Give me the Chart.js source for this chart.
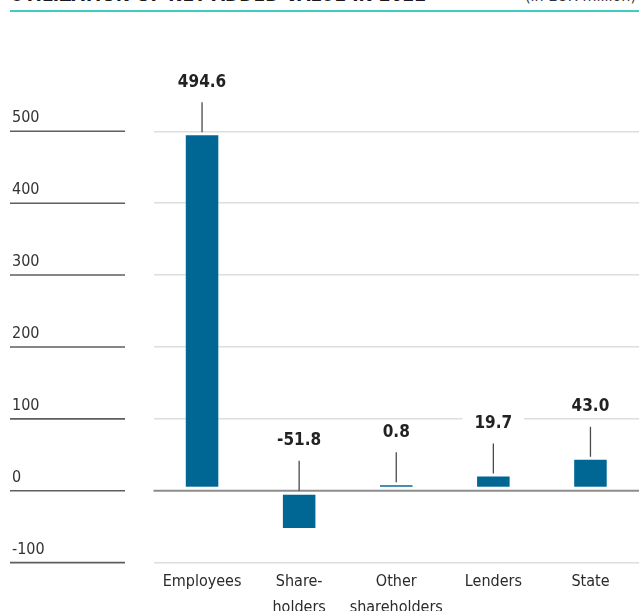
<!DOCTYPE html>
<html>
<head>
<meta charset="utf-8">
<script src="https://cdn.jsdelivr.net/npm/chart.js@4/dist/chart.umd.min.js"></script>
<style>
  html, body { margin: 0; padding: 0; background: #fff; overflow: hidden; }
  #wrap { position: relative; width: 639px; height: 611px; }
  #title { position: absolute; left: 10px; top: -17px; font: bold 19px "DejaVu Sans Condensed", sans-serif; letter-spacing: 0px; color: #1a1a1a; white-space: nowrap; }
  #unit { position: absolute; right: 3px; top: -14px; font: 16px "DejaVu Sans Condensed", sans-serif; color: #333; white-space: nowrap; }
  #rule { position: absolute; left: 10px; right: 0; top: 10px; height: 2px; background: #3fcdc0; }
  #c { position: absolute; left: 0; top: 0; }
</style>
</head>
<body>
<div id="wrap">
  <div id="title">UTILIZATION OF NET ADDED VALUE IN 2022</div>
  <div id="unit">(in EUR million)</div>
  <div id="rule"></div>
  <canvas id="c" width="639" height="611"></canvas>
</div>
<script>
const categories = [["Employees"], ["Share-", "holders"], ["Other", "shareholders"], ["Lenders"], ["State"]];
const values = [494.6, -51.8, 0.8, 19.7, 43.0];
const valueLabels = ["494.6", "-51.8", "0.8", "19.7", "43.0"];
const yTicks = [-100, 0, 100, 200, 300, 400, 500];

const FONT = '"DejaVu Sans Condensed", "DejaVu Sans", sans-serif';

const overlay = {
  id: 'overlay',
  afterDatasetsDraw(chart) {
    const { ctx, chartArea, scales: { y } } = chart;
    const y0 = y.getPixelForValue(0);
    ctx.save();
    ctx.fillStyle = '#ffffff';
    ctx.fillRect(chartArea.left, y0 - 4, chartArea.right - chartArea.left, 8);
    ctx.strokeStyle = '#8c8c8c';
    ctx.lineWidth = 2;
    ctx.beginPath();
    ctx.moveTo(chartArea.left, y0);
    ctx.lineTo(chartArea.right, y0);
    ctx.stroke();
    const meta = chart.getDatasetMeta(0);
    ctx.font = 'bold 17px ' + FONT;
    ctx.textAlign = 'center';
    ctx.textBaseline = 'middle';
    meta.data.forEach((bar, i) => {
      const v = values[i];
      const lineBottom = v >= 0 ? bar.y - 3 : y0;
      const lineTop = lineBottom - 30;
      ctx.strokeStyle = '#4a4a4a';
      ctx.lineWidth = 1.3;
      ctx.beginPath();
      ctx.moveTo(bar.x, lineTop);
      ctx.lineTo(bar.x, lineBottom);
      ctx.stroke();
      const ly = lineTop - 20;
      const txt = valueLabels[i];
      const w = ctx.measureText(txt).width;
      ctx.fillStyle = '#ffffff';
      ctx.fillRect(bar.x - w / 2 - 12, ly - 9, w + 24, 18);
      ctx.fillStyle = '#222222';
      ctx.fillText(txt, bar.x, ly);
    });
    ctx.restore();
  },
  afterDraw(chart) {
    const { ctx, scales: { y } } = chart;
    ctx.save();
    ctx.strokeStyle = '#5e5e5e';
    ctx.lineWidth = 1.6;
    y.ticks.forEach(t => {
      const py = y.getPixelForValue(t.value);
      ctx.beginPath();
      ctx.moveTo(10, py);
      ctx.lineTo(125, py);
      ctx.stroke();
    });
    ctx.restore();
  }
};

new Chart(document.getElementById('c'), {
  type: 'bar',
  data: {
    labels: categories,
    datasets: [{
      data: values,
      backgroundColor: '#006795',
      borderWidth: 0,
      categoryPercentage: 1,
      barPercentage: 0.335,
      minBarLength: 5.5
    }]
  },
  options: {
    responsive: false,
    animation: false,
    devicePixelRatio: 1,
    layout: { padding: { left: 12, right: 0, top: 131.3, bottom: 0 } },
    plugins: { legend: { display: false }, tooltip: { enabled: false } },
    scales: {
      x: {
        grid: { display: false, drawTicks: false },
        border: { display: false },
        ticks: {
          color: '#2a2a2a',
          font: { family: FONT, size: 16, lineHeight: 1.65 },
          padding: 6,
          maxRotation: 0,
          autoSkip: false
        },
        afterFit: s => { s.height = 611 - 562.6; }
      },
      y: {
        min: -100,
        max: 500,
        afterBuildTicks: s => { s.ticks = yTicks.map(v => ({ value: v })); },
        grid: {
          color: ctx => (ctx.tick && ctx.tick.value === 0) ? '#8c8c8c' : '#dedede',
          lineWidth: 1.5,
          drawTicks: false
        },
        border: { display: false },
        ticks: {
          color: '#333333',
          font: { family: FONT, size: 16 },
          crossAlign: 'far',
          labelOffset: -13,
          padding: 0
        },
        afterFit: s => { s.width = 153.5 - 12; }
      }
    }
  },
  plugins: [overlay]
});
</script>
</body>
</html>
